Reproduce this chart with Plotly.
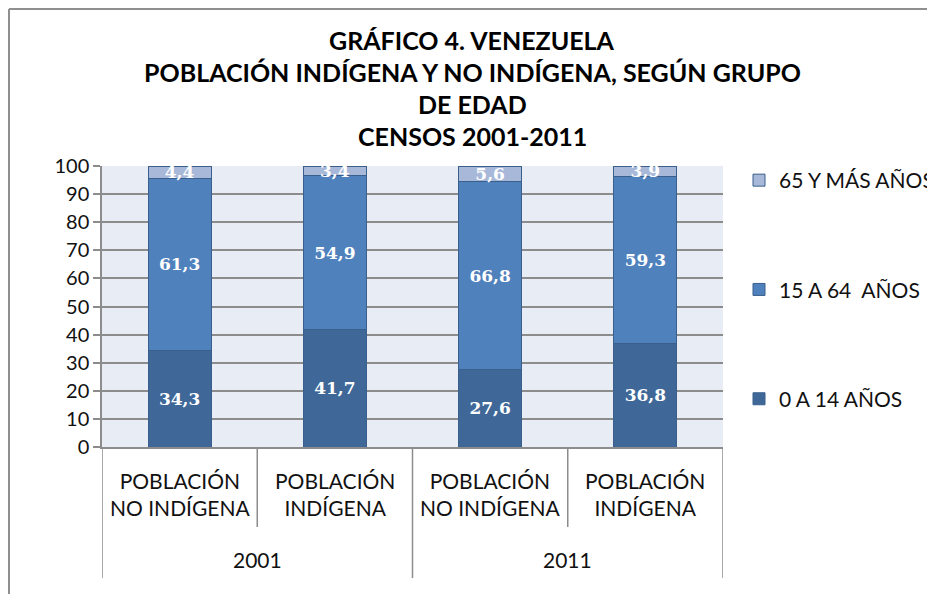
import plotly.graph_objects as go

years = ["2001", "2011"]
groups = ["POBLACIÓN<br>NO INDÍGENA", "POBLACIÓN<br>INDÍGENA", "POBLACIÓN<br>NO INDÍGENA", "POBLACIÓN<br>INDÍGENA"]
series_names = ["0 A 14 AÑOS", "15 A 64  AÑOS", "65 Y MÁS AÑOS"]
v_0_14 = [34.3, 41.7, 27.6, 36.8]
v_15_64 = [61.3, 54.9, 66.8, 59.3]
v_65 = [4.4, 3.4, 5.6, 3.9]
title_lines = ["GRÁFICO 4. VENEZUELA", "POBLACIÓN INDÍGENA Y NO INDÍGENA, SEGÚN GRUPO", "DE EDAD", "CENSOS 2001-2011"]

colors = ["#3F6898", "#4F81BD", "#A7B8D8"]
OFF = 8  # page body margin offset of the figure on screen
W, H = 935, 594
L, T = 102 - OFF, 166 - OFF
R = W - (723 - OFF)
B = H - (447 - OFF)
ph = H - T - B
pw = W - L - R

def py(ys):
    return (H - B - (ys - OFF)) / ph

def px(xs):
    return (xs - OFF - L) / pw

xpos = list(range(len(groups)))
fig = go.Figure()
for i, (name, vals) in enumerate(zip(series_names, [v_0_14, v_15_64, v_65])):
    fig.add_trace(go.Bar(
        x=xpos, y=vals, name=name,
        marker=dict(color=colors[i], line=dict(color="#3A5F8C", width=1)),
        text=[f"{v:.1f}".replace(".", ",") for v in vals],
        textposition="inside", insidetextanchor="middle",
        constraintext="none",
        textfont=dict(family="DejaVu Serif", size=17, color="white", weight="bold"),
        legendgroup=f"g{i}", legendrank=3 - i,
    ))

annotations = []
title_y = [40, 72, 104, 136]
for t, yy in zip(title_lines, title_y):
    annotations.append(dict(text=t, x=px(472), xref="paper", y=py(yy), yref="paper",
                            showarrow=False, xanchor="center", yanchor="middle",
                            font=dict(family="Lato", size=25, color="black", weight="bold")))
for xi, g in zip(xpos, groups):
    annotations.append(dict(text=g, x=xi, xref="x", y=py(494), yref="paper", showarrow=False,
                            xanchor="center", yanchor="middle",
                            font=dict(family="Lato", size=21, color="#111")))
for k, yr in enumerate(years):
    annotations.append(dict(text=yr, x=2 * k + 0.5, xref="x", y=py(559), yref="paper", showarrow=False,
                            xanchor="center", yanchor="middle",
                            font=dict(family="Lato", size=21, color="#111")))

shapes = []
for xv in [-0.5, 1.5, 3.5]:
    shapes.append(dict(type="line", xref="x", yref="paper", x0=xv, x1=xv, y0=0, y1=py(578),
                       line=dict(color="#8C8C8C", width=1.5)))
for xv in [0.5, 2.5]:
    shapes.append(dict(type="line", xref="x", yref="paper", x0=xv, x1=xv, y0=0, y1=py(527),
                       line=dict(color="#8C8C8C", width=1.5)))
# outer chart frame
shapes.append(dict(type="line", xref="paper", yref="paper", x0=px(9), x1=px(950), y0=py(9), y1=py(9),
                   line=dict(color="#8F8F8F", width=2)))
shapes.append(dict(type="line", xref="paper", yref="paper", x0=px(9), x1=px(9), y0=py(9), y1=py(610),
                   line=dict(color="#8F8F8F", width=2)))

fig.update_layout(
    width=W, height=H,
    margin=dict(l=L, r=R, t=T, b=B, autoexpand=False),
    barmode="stack", bargap=0.594,
    paper_bgcolor="white", plot_bgcolor="#E8EDF5",
    showlegend=True,
    legend=dict(x=px(739), xanchor="left", y=py(160), yanchor="top",
                traceorder="grouped", tracegroupgap=79,
                font=dict(family="Lato", size=21, color="#111"),
                bgcolor="rgba(0,0,0,0)"),
    annotations=annotations, shapes=shapes,
    font=dict(family="Lato", color="#111"),
)
fig.update_xaxes(range=[-0.5, 3.5], showticklabels=False, showgrid=False, zeroline=False,
                 showline=True, linecolor="#8C8C8C", linewidth=2, ticks="")
fig.update_yaxes(range=[0, 100], dtick=10, showgrid=True, gridcolor="#8C8C8C", gridwidth=1.5,
                 zeroline=False, showline=True, linecolor="#8C8C8C", linewidth=1.5,
                 ticks="outside", ticklen=7, tickcolor="#8C8C8C", tickwidth=1.5,
                 tickfont=dict(family="Lato", size=20, color="#111"))

fig.write_html("out.html")
